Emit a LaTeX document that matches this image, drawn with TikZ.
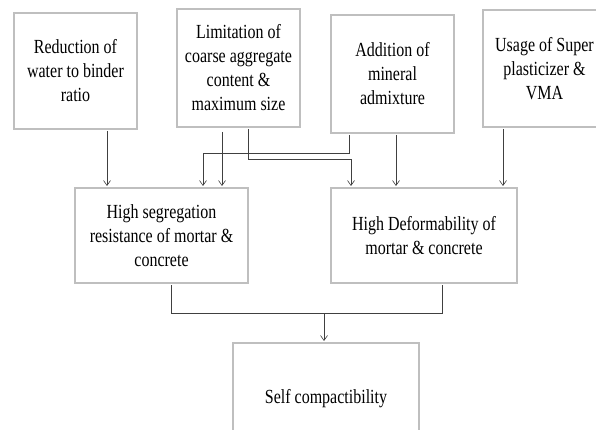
\documentclass[tikz,border=0pt]{standalone}
\usepackage{fontspec}
\setmainfont{Liberation Serif}[FakeStretch=0.8]
\usetikzlibrary{arrows.meta}
\begin{document}
\begin{tikzpicture}[x=1pt,y=-1pt,
  box/.style={draw=black!25, line width=2pt, fill=white, align=center,
    inner sep=0pt, font=\fontsize{20}{24}\selectfont,
    execute at begin node={\rule{0pt}{25pt}}},
  arr/.style={draw=black!75, line width=0.6pt, -{Straight Barb[length=5pt,width=7pt]}},
  ln/.style={draw=black!75, line width=0.6pt}]
\clip (0,0) rectangle (596,430);
\fill[white] (0,0) rectangle (596,430);
\node[box, minimum width=123pt, minimum height=116pt] (b1) at (75.5,71) {Reduction of\\water to binder\\ratio};
\node[box, minimum width=123pt, minimum height=118pt] (b2) at (238.5,68) {Limitation of\\coarse aggregate\\content \&\\maximum size};
\node[box, minimum width=123pt, minimum height=118pt] (b3) at (392.5,74) {Addition of\\mineral\\admixture};
\node[box, minimum width=123pt, minimum height=117pt] (b4) at (544.5,68.5) {Usage of Super\\plasticizer \&\\VMA};
\node[box, minimum width=173pt, minimum height=95pt] (b5) at (161.5,235.5) {High segregation\\resistance of mortar \&\\concrete};
\node[box, minimum width=186pt, minimum height=95pt] (b6) at (424,235.5) {High Deformability of\\mortar \& concrete};
\node[box, minimum width=186pt, minimum height=100pt] (b7) at (326,393) {Self compactibility};
% top arrows
\draw[arr] ([xshift=31.5pt,yshift=-1pt]b1.south) -- ([xshift=31.5pt,yshift=1pt]b1.south |- b5.north);
\draw[arr] ([xshift=-16.5pt,yshift=-4pt]b2.south) -- ([xshift=-16.5pt,yshift=1pt]b2.south |- b5.north);
\draw[arr] ([xshift=-43.5pt,yshift=-1pt]b3.south) |- (203,153) -- ([yshift=1pt]b5.north -| 203,0);
\draw[arr] ([xshift=9.5pt,yshift=-1pt]b2.south) |- (351,159) -- ([yshift=1pt]b6.north -| 351,0);
\draw[arr] ([xshift=3.5pt,yshift=-1pt]b3.south) -- ([xshift=3.5pt,yshift=1pt]b3.south |- b6.north);
\draw[arr] ([xshift=-41.5pt,yshift=-1pt]b4.south) -- ([xshift=-41.5pt,yshift=1pt]b4.south |- b6.north);
% bottom join
\coordinate (j) at (324,313);
\draw[ln] ([xshift=9.5pt,yshift=-1pt]b5.south) |- (j);
\draw[ln] ([xshift=18pt,yshift=-1pt]b6.south) |- (j);
\draw[arr] (j) -- ([yshift=1pt]b7.north -| j);
\end{tikzpicture}
\end{document}
